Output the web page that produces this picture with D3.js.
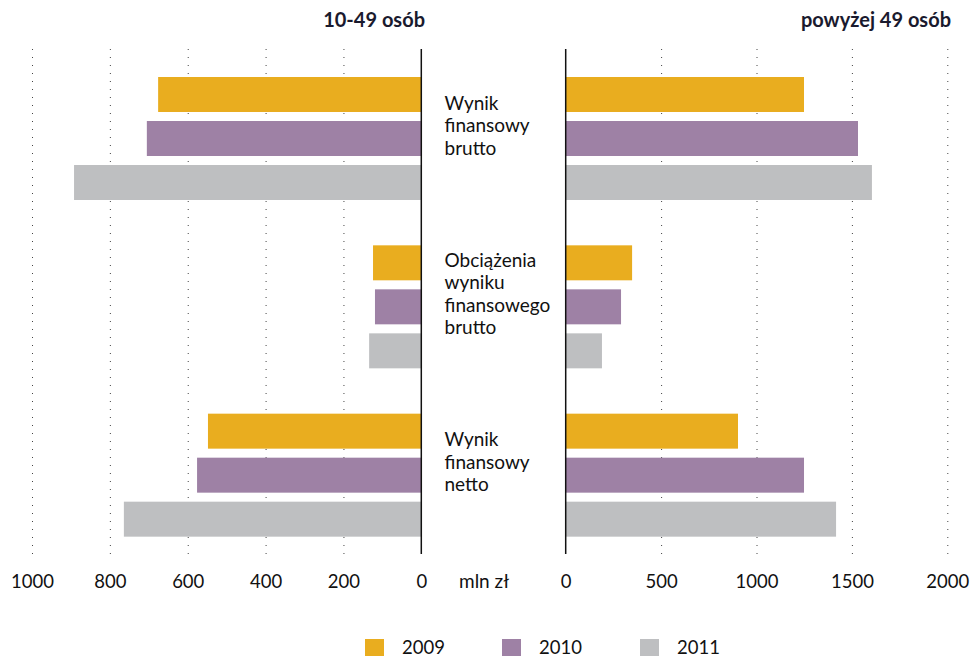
<!DOCTYPE html>
<meta charset="utf-8">
<style>
body { margin: 0; background: #fff; }
text { font-family: Lato, "Open Sans", sans-serif; fill: #111; }
.grid line { stroke: #444; stroke-width: 1px; stroke-dasharray: 1,7; }
.title { font-weight: bold; fill: #1a1a2e; font-size: 20px; }
</style>
<body>
<script src="https://d3js.org/d3.v7.min.js"></script>
<script>
// values in mln zł
var categories = ["Wynik finansowy brutto", "Obciążenia wyniku finansowego brutto", "Wynik finansowy netto"];
var years = ["2009", "2010", "2011"];
var colors = ["#e9ad1f", "#9e81a5", "#bebfc1"];
var small2009 = [676, 124, 548];
var small2010 = [705, 119, 576];
var small2011 = [892, 134, 764];
var big2009 = [1249, 348, 903];
var big2010 = [1532, 290, 1249];
var big2011 = [1605, 190, 1417];
var leftTicks = [1000, 800, 600, 400, 200, 0];
var rightTicks = [0, 500, 1000, 1500, 2000];

var width = 979, height = 656;
var plotTop = 49, plotBottom = 554;

var svg = d3.select("body").append("svg")
    .attr("width", width)
    .attr("height", height);

var xL = d3.scaleLinear().domain([0, 1000]).range([421.3, 32]);
var xR = d3.scaleLinear().domain([0, 2000]).range([565.7, 947.3]);

var y = d3.scaleBand().domain(categories).range([plotTop, plotBottom]);
var yIn = d3.scaleBand().domain(years).range([28, 151]).paddingInner(0.205);
var color = d3.scaleOrdinal().domain(years).range(colors);

function rows(a, b, c) {
  var out = [];
  categories.forEach(function(cat, i) {
    out.push({cat: cat, year: "2009", v: a[i]});
    out.push({cat: cat, year: "2010", v: b[i]});
    out.push({cat: cat, year: "2011", v: c[i]});
  });
  return out;
}
var leftData = rows(small2009, small2010, small2011);
var rightData = rows(big2009, big2010, big2011);

// dotted grid
function grid(scale, values) {
  svg.append("g").attr("class", "grid")
    .attr("transform", "translate(0," + plotBottom + ")")
    .call(d3.axisBottom(scale).tickValues(values.filter(function(d){ return d > 0; }))
      .tickSize(-(plotBottom - plotTop)).tickFormat(""))
    .call(function(g){ g.select(".domain").remove(); });
}
grid(xL, leftTicks);
grid(xR, rightTicks);

// bars
svg.append("g").selectAll("rect")
  .data(leftData).enter().append("rect")
  .attr("x", function(d){ return xL(d.v); })
  .attr("y", function(d){ return y(d.cat) + yIn(d.year); })
  .attr("width", function(d){ return xL(0) - xL(d.v); })
  .attr("height", yIn.bandwidth())
  .attr("fill", function(d){ return color(d.year); });

svg.append("g").selectAll("rect")
  .data(rightData).enter().append("rect")
  .attr("x", xR(0))
  .attr("y", function(d){ return y(d.cat) + yIn(d.year); })
  .attr("width", function(d){ return xR(d.v) - xR(0); })
  .attr("height", yIn.bandwidth())
  .attr("fill", function(d){ return color(d.year); });

// zero lines
[xL(0), xR(0)].forEach(function(x) {
  svg.append("line")
    .attr("x1", x).attr("x2", x)
    .attr("y1", plotTop).attr("y2", plotBottom)
    .attr("stroke", "#111").attr("stroke-width", 1.5);
});

// tick labels
function tickLabels(scale, values) {
  var g = svg.append("g")
    .attr("transform", "translate(0," + plotBottom + ")")
    .call(d3.axisBottom(scale).tickValues(values).tickSize(0).tickPadding(0)
      .tickFormat(d3.format("d")));
  g.select(".domain").remove();
  g.selectAll("text")
    .attr("y", 34).attr("dy", 0)
    .style("font-family", "Lato, sans-serif")
    .style("font-size", "18.5px")
    .style("fill", "#111");
}
tickLabels(xL, leftTicks);
tickLabels(xR, rightTicks);

svg.append("text")
  .attr("x", 459).attr("y", plotBottom + 34)
  .style("font-size", "19px")
  .text("mln zł");

// category labels
categories.forEach(function(cat) {
  var words = cat.split(" ");
  var c = y(cat) + y.bandwidth() / 2;
  var t = svg.append("text")
    .attr("x", 444.5)
    .style("font-size", "19px");
  words.forEach(function(w, i) {
    t.append("tspan")
      .attr("x", 444.5)
      .attr("y", c + (i - (words.length - 1) / 2) * 22.5 - 1)
      .text(w);
  });
});

// panel titles
svg.append("text").attr("class", "title")
  .attr("x", 425).attr("y", 27)
  .attr("text-anchor", "end")
  .text("10-49 osób");

svg.append("text").attr("class", "title")
  .attr("x", 951).attr("y", 27)
  .attr("text-anchor", "end")
  .text("powyżej 49 osób");

// legend
var legendX = d3.scaleOrdinal().domain(years).range([365, 502, 640]);
var lg = svg.append("g").selectAll("g")
  .data(years).enter().append("g")
  .attr("transform", function(d){ return "translate(" + legendX(d) + ",639)"; });
lg.append("rect")
  .attr("width", 19).attr("height", 19)
  .attr("fill", function(d){ return color(d); });
lg.append("text")
  .attr("x", 37).attr("y", 15)
  .style("font-size", "18.5px")
  .text(function(d){ return d; });
</script>
</body>
